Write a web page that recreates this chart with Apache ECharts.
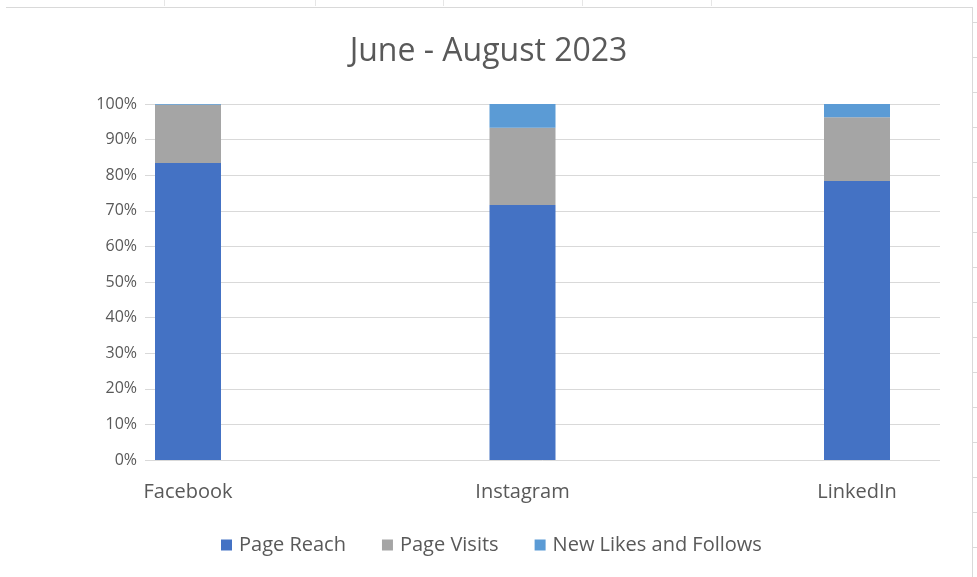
<!DOCTYPE html>
<html><head><meta charset="utf-8">
<script src="https://cdn.jsdelivr.net/npm/echarts@6/dist/echarts.min.js"></script>
<style>html,body{margin:0;padding:0;background:#fff}#c{width:977px;height:577px}</style>
</head><body><div id="c"></div>
<script>
var categories = ['Facebook', 'Instagram', 'LinkedIn'];
var pageReach = [83.4, 71.6, 78.4];
var pageVisits = [16.4, 21.7, 17.9];
var newLikes = [0.2, 6.7, 3.7];
var yTicks = [0, 10, 20, 30, 40, 50, 60, 70, 80, 90, 100];

var FONT = 'Open Sans';
var TXT = '#595959';
var chart = echarts.init(document.getElementById('c'), null, {renderer: 'canvas'});

// value first, category index second: the first numeric dimension is the one stacked
function pairs(arr) { return arr.map(function (v, i) { return [v, i]; }); }
var catIdx = categories.map(function (c, i) { return i; });

var bg = [];
bg.push({type: 'line', shape: {x1: 6, y1: 7.5, x2: 972, y2: 7.5}, style: {stroke: '#d9d9d9', lineWidth: 1}, silent: true});
bg.push({type: 'line', shape: {x1: 972.5, y1: 7, x2: 972.5, y2: 577}, style: {stroke: '#d9d9d9', lineWidth: 1}, silent: true});
[164, 315, 443, 582, 711].forEach(function (x) {
  bg.push({type: 'line', shape: {x1: x + 0.5, y1: 0, x2: x + 0.5, y2: 6}, style: {stroke: '#e6e6e6', lineWidth: 1}, silent: true});
});
for (var yy = 22; yy < 577; yy += 35) {
  bg.push({type: 'line', shape: {x1: 973, y1: yy + 0.5, x2: 977, y2: yy + 0.5}, style: {stroke: '#d9d9d9', lineWidth: 1}, silent: true});
}

// plot area 145..940; category centres fall at 188, 522, 857 as in the reference
var xMin = -43 / 334.5;
var xMax = xMin + 795 / 334.5;

function barSeries(name, color, arr) {
  return {name: name, type: 'bar', stack: 's', barWidth: 66,
    encode: {x: 1, y: 0},
    itemStyle: {color: color}, data: pairs(arr)};
}

var option = {
  backgroundColor: '#ffffff',
  animation: false,
  textStyle: {fontFamily: FONT},
  title: {
    text: 'June - August 2023',
    left: 'center', top: 31,
    textStyle: {fontFamily: FONT, fontSize: 32, fontWeight: 'normal', color: TXT}
  },
  legend: {
    left: 216, top: 530,
    itemWidth: 11, itemHeight: 11, itemGap: 36,
    icon: 'rect',
    textStyle: {fontFamily: FONT, fontSize: 20, color: TXT, padding: [0, 0, 0, 2]},
    data: ['Page Reach', 'Page Visits', 'New Likes and Follows']
  },
  grid: {left: 145, right: 37, top: 104, bottom: 117, containLabel: false},
  xAxis: {
    type: 'value', min: xMin, max: xMax,
    axisLine: {show: false}, axisTick: {show: false}, splitLine: {show: false},
    axisLabel: {
      customValues: catIdx,
      fontFamily: FONT, fontSize: 20, color: TXT, margin: 22,
      formatter: function (v) { return categories[Math.round(v)]; }
    }
  },
  yAxis: {
    type: 'value', min: 0, max: 100, interval: 10,
    axisLine: {show: false}, axisTick: {show: false},
    splitLine: {lineStyle: {color: '#d9d9d9', width: 1}},
    axisLabel: {fontFamily: FONT, fontSize: 16, color: TXT, margin: 8,
      formatter: function (v) { return yTicks.indexOf(v) >= 0 ? v + '%' : ''; }}
  },
  series: [
    barSeries('Page Reach', '#4472C4', pageReach),
    barSeries('Page Visits', '#A5A5A5', pageVisits),
    barSeries('New Likes and Follows', '#5B9BD5', newLikes)
  ],
  graphic: bg
};
chart.setOption(option);
</script>
</body></html>
